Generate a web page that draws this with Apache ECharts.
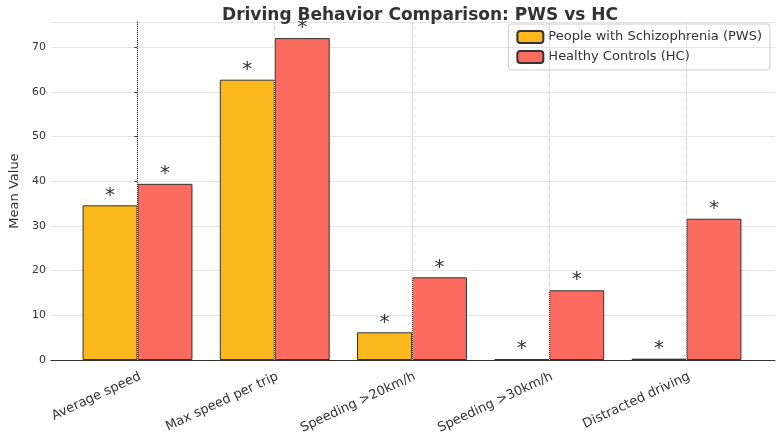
<!DOCTYPE html><html><head><meta charset="utf-8"><script src="https://cdn.jsdelivr.net/npm/echarts@6/dist/echarts.min.js"></script></head><body style="margin:0;background:#fff"><div id="c" style="width:780px;height:436px"></div><script>
const categories=['Average speed','Max speed per trip','Speeding >20km/h','Speeding >30km/h','Distracted driving'];
const pws=[34.6,62.7,6.2,0.2,0.3];
const hc=[39.4,72.0,18.5,15.6,31.6];
const yTicks=[0,10,20,30,40,50,60,70];
const ch=echarts.init(document.getElementById('c'));
const lab={show:true,position:'top',formatter:'*',fontSize:20,color:'#333',distance:0,fontFamily:'DejaVu Sans'};
ch.setOption({
title:{text:'Driving Behavior Comparison: PWS vs HC',left:415,textAlign:'center',top:2,textStyle:{fontFamily:'DejaVu Sans',fontSize:17,fontWeight:'bold',color:'#333'}},
legend:{right:10,top:24,orient:'vertical',itemWidth:26,itemHeight:12,itemGap:6,borderColor:'#ccc',borderWidth:1,borderRadius:3,padding:[6,8],textStyle:{fontFamily:'DejaVu Sans',fontSize:13,color:'#333'},data:['People with Schizophrenia (PWS)','Healthy Controls (HC)']},
grid:{left:39,right:5,top:22,bottom:74},
xAxis:{type:'value',min:-0.631,max:4.645,axisLine:{show:true,lineStyle:{color:'#333'}},splitLine:{show:false},axisTick:{show:false},
 axisLabel:{customValues:[0,1,2,3,4],formatter:v=>categories[Math.round(v)],rotate:25,fontFamily:'DejaVu Sans',fontSize:13,color:'#333',margin:10,align:'right',verticalAlign:'top'}},
yAxis:{type:'value',min:0,max:75.6,interval:10,name:'Mean Value',nameLocation:'middle',nameGap:24,nameTextStyle:{fontFamily:'DejaVu Sans',fontSize:13,color:'#333'},
 axisLine:{show:true,lineStyle:{color:'#333'}},axisTick:{show:true,length:3},axisLabel:{showMaxLabel:false,fontFamily:'DejaVu Sans',fontSize:11,color:'#333',margin:5},splitLine:{lineStyle:{color:'#e4e4e4'}}},
series:[
{name:'People with Schizophrenia (PWS)',type:'bar',barWidth:55,barGap:'-100%',data:pws.map((v,i)=>[i-0.2,v]),itemStyle:{color:'#fbb81c',borderColor:'#333',borderWidth:1},label:lab,
 markLine:{silent:true,symbol:'none',label:{show:false},lineStyle:{type:'dotted',color:'#ccc',width:1},data:[0,1,2,3,4].map(x=>({xAxis:x}))}},
{name:'Healthy Controls (HC)',type:'bar',barWidth:55,barGap:'-100%',data:hc.map((v,i)=>[i+0.2,v]),itemStyle:{color:'#fb6b5f',borderColor:'#333',borderWidth:1},label:lab}
]});
</script></body></html>
